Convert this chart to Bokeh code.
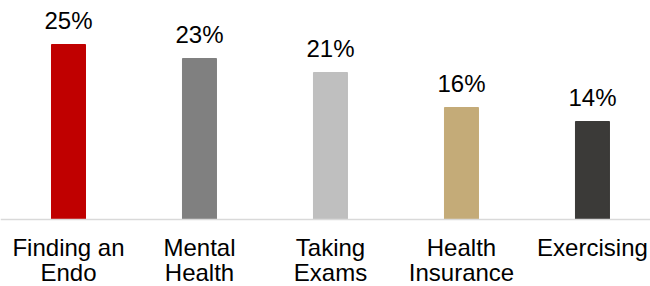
from bokeh.plotting import figure
from bokeh.models import Range1d, ColumnDataSource, Span
from bokeh.core.properties import value
from bokeh.embed import file_html
from bokeh.resources import INLINE

categories = ["Finding an\nEndo", "Mental\nHealth", "Taking\nExams", "Health\nInsurance", "Exercising"]
values = [25, 23, 21, 16, 14]
labels = ["25%", "23%", "21%", "16%", "14%"]
colors = ["#C00000", "#808080", "#BFBFBF", "#C4AB78", "#3B3A38"]

xs = list(range(len(categories)))
line1 = [c.split("\n")[0] for c in categories]
line2 = [c.split("\n")[1] if "\n" in c else "" for c in categories]
src = ColumnDataSource(dict(x=xs, top=values, lab=labels, color=colors,
                            l1=line1, l2=line2, zero=[0] * len(xs)))

p = figure(width=650, height=286, output_backend="svg", toolbar_location=None,
           x_range=Range1d(-0.519, 4.443), y_range=Range1d(-9.571, 31.286),
           min_border=0, min_border_left=0, min_border_right=0,
           min_border_top=0, min_border_bottom=0)

p.vbar(x="x", top="top", bottom=0, width=34 / 131, color="color", source=src)
p.text(x="x", y="top", text="lab", source=src, text_align="center", text_baseline="bottom",
       y_offset=-11, text_font=value("Liberation Sans"), text_font_size="24px",
       text_color="#000000")

# category labels below the baseline (two lines)
common = dict(source=src, text_align="center", text_baseline="top",
              text_font=value("Liberation Sans"), text_font_size="24px", text_color="#000000")
p.text(x="x", y="zero", text="l1", y_offset=14, **common)
p.text(x="x", y="zero", text="l2", y_offset=39, **common)

p.add_layout(Span(location=0, dimension="width", line_color="#D9D9D9", line_width=1.5))

p.axis.visible = False
p.grid.visible = False
p.outline_line_color = None

open("out.html", "w").write(file_html(p, INLINE))
